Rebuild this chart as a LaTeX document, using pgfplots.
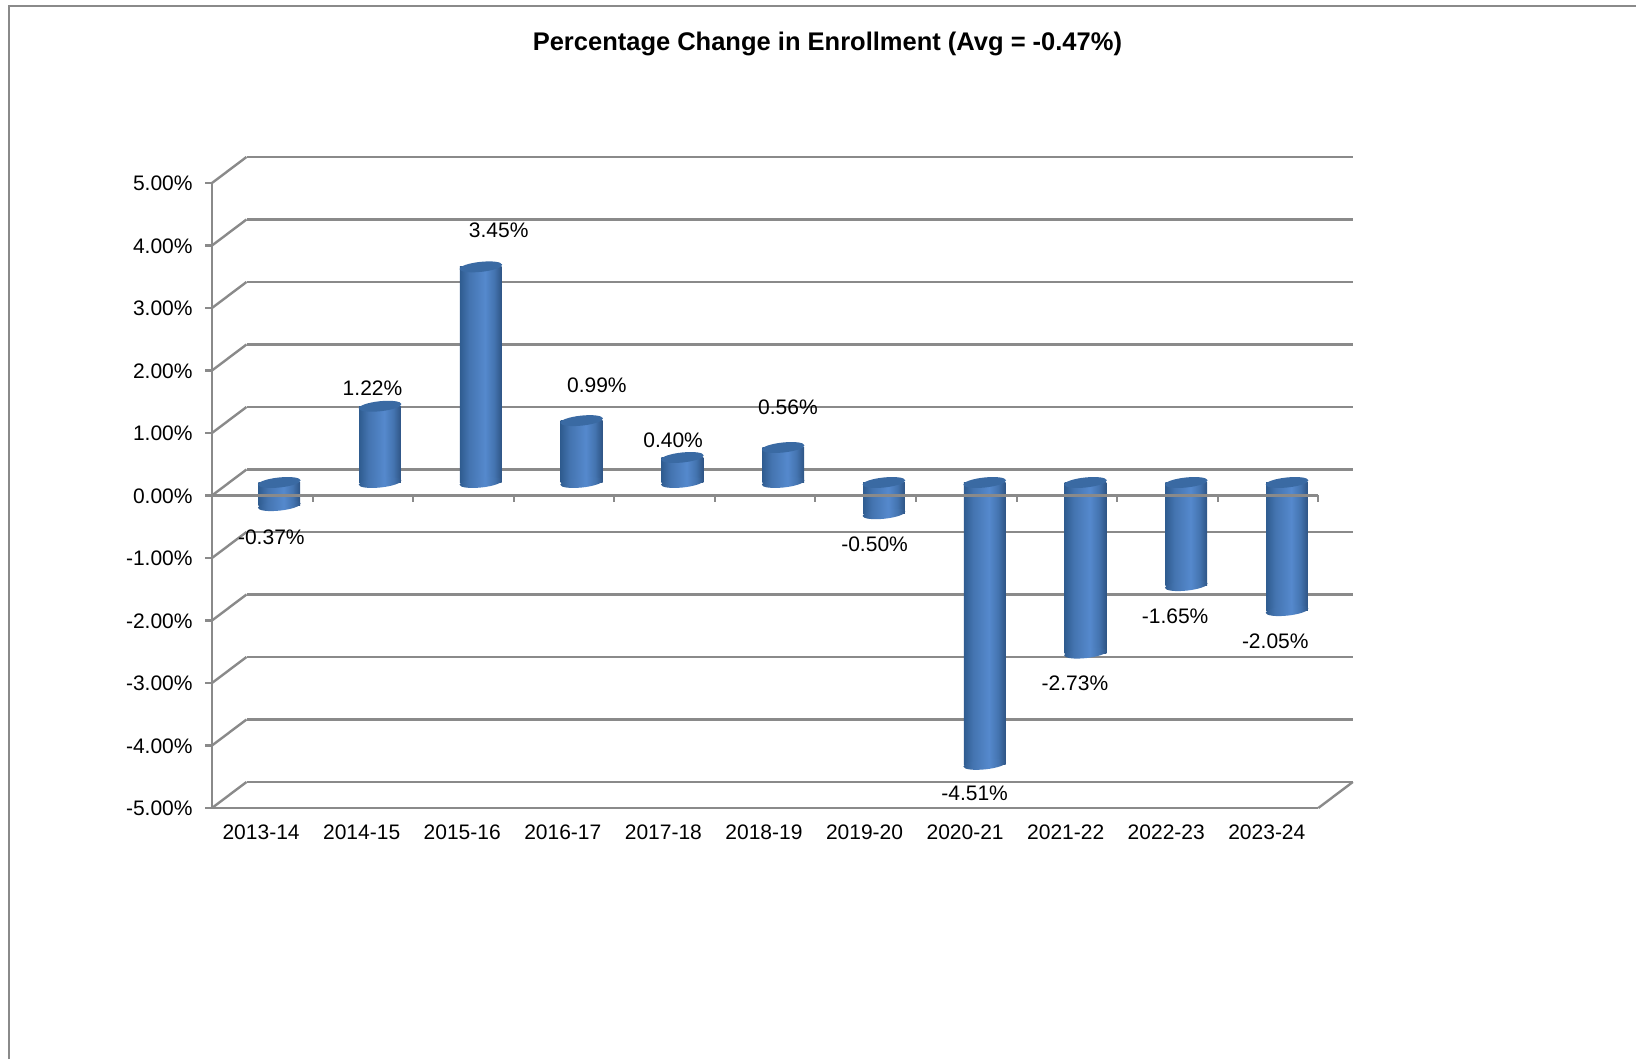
\documentclass[border=0pt]{standalone}
\usepackage{fontspec}
\setmainfont{Liberation Sans}
\usepackage{pgfplots}
\usepackage{pgfplotstable}
\pgfplotsset{compat=1.18}

\definecolor{framegray}{HTML}{8A8A8A}
\definecolor{cyledgeL}{HTML}{2F5C90}
\definecolor{cylmidA}{HTML}{4474B0}
\definecolor{cylmid}{HTML}{5589CD}
\definecolor{cyledgeR}{HTML}{2E5484}
\definecolor{capblue}{HTML}{3A6AA3}

% Lit cylinder surface, dark at both edges and bright just right of centre
\pgfdeclarehorizontalshading{cyl}{100bp}{%
  color(0bp)=(cyledgeL); color(25bp)=(cyledgeL); color(36bp)=(cylmidA);
  color(55bp)=(cylmid); color(66bp)=(cylmidA); color(75bp)=(cyledgeR); color(100bp)=(cyledgeR)}

% Tilted ellipses closing each cylinder
\pgfdeclareplotmark{cylcap}{%
  \pgfpathellipse{\pgfpointorigin}{\pgfqpoint{10.66pt}{1.12pt}}{\pgfqpoint{-0.26pt}{2.49pt}}%
  \pgfsetfillcolor{capblue}\pgfusepathqfill}
\pgfdeclareplotmark{cylfoot}{%
  \pgfpathellipse{\pgfpointorigin}{\pgfqpoint{10.66pt}{1.12pt}}{\pgfqpoint{-0.26pt}{2.49pt}}%
  \pgfshadepath{cyl}{0}\pgfusepath{discard}}

% Enrollment change per academic year; cap and foot are the ends of each cylinder
\pgfplotstableread{
x  v      cap   foot
0  -0.37  0     -0.37
1  1.22   1.22  0
2  3.45   3.45  0
3  0.99   0.99  0
4  0.40   0.40  0
5  0.56   0.56  0
6  -0.50  0     -0.50
7  -4.51  0     -4.51
8  -2.73  0     -2.73
9  -1.65  0     -1.65
10 -2.05  0     -2.05
}\enroll

\pgfplotsset{
  chartbox/.style={
    scale only axis, width=553.15pt, height=312.5pt,
    xmin=-0.5, xmax=10.5, ymin=-5, ymax=5, clip=false,
  },
}
\newcommand{\labfont}{\fontsize{10.5}{12}\selectfont}

\begin{document}
\begin{tikzpicture}
\path[use as bounding box] (0,0) rectangle (818pt,529.5pt);

% Outer chart frame
\draw[framegray, line width=1.1pt] (4.5pt,0pt) -- (4.5pt,526.5pt) -- (818pt,526.5pt);

% Title
\node[font=\fontsize{12.75}{14}\selectfont\bfseries, inner sep=0pt, anchor=center] at (413.7pt,507.7pt)
  {Percentage Change in Enrollment (Avg = -0.47\%)};

% Back wall with the horizontal gridlines
\begin{axis}[chartbox, at={(123.25pt,138.5pt)}, anchor=south west,
  axis line style={draw=none}, xtick=\empty, ytick={-5,-4,...,5}, yticklabels={},
  ymajorgrids, major tick length=0pt, tick style={draw=none},
  grid style={framegray, line width=1.2pt}]
\end{axis}

% Cylinders, at mid depth between the wall and the front plane
\begin{axis}[chartbox, width=554.25pt, at={(114.45pt,132pt)}, anchor=south west,
  axis line style={draw=none}, xtick=\empty, ytick=\empty]
  \addplot[only marks, mark=cylfoot] table[x=x, y=foot] {\enroll};
  \pgfplotsinvokeforeach{0,1,...,10}{
    \addplot[ybar, bar width=20.9pt, bar shift=0pt, draw=none, shade, shading=cyl,
      restrict x to domain=#1:#1] table[x=x, y=v] {\enroll};
  }
  \addplot[only marks, mark=cylcap] table[x=x, y=cap] {\enroll};
\end{axis}

% Front plane: axes, tick labels, depth edges and value labels
\begin{axis}[chartbox, at={(106pt,125.5pt)}, anchor=south west,
  axis x line=bottom, axis y line=left,
  axis line style={-, framegray, line width=1.2pt},
  xtick={0,1,...,10},
  xticklabels={2013-14,2014-15,2015-16,2016-17,2017-18,2018-19,2019-20,2020-21,2021-22,2022-23,2023-24},
  ytick={-5,-4,...,5},
  yticklabels={-5.00\%,-4.00\%,-3.00\%,-2.00\%,-1.00\%,0.00\%,1.00\%,2.00\%,3.00\%,4.00\%,5.00\%},
  x tick style={draw=none}, y tick style={framegray, line width=1.1pt},
  tick align=outside, major tick length=3.5pt,
  x tick label style={font=\labfont, anchor=center, inner sep=0pt, yshift=-8.8pt, xshift=-0.6pt},
  y tick label style={font=\labfont, anchor=east, inner sep=0pt, xshift=-6pt, yshift=-0.3pt},
]
  \pgfplotsinvokeforeach{-5,-4,...,5}{
    \draw[framegray, line width=1.2pt] (axis cs:-0.5,#1) -- ++(17.25pt,13pt);
  }
  \draw[framegray, line width=1.2pt] (axis cs:10.5,-5) -- ++(17.25pt,13pt);
  \draw[framegray, line width=1.2pt] (axis cs:-0.5,0) -- (axis cs:10.5,0);
  \pgfplotsinvokeforeach{0.5,1.5,...,10.5}{
    \draw[framegray, line width=1pt] (axis cs:#1,0) -- ++(0pt,-3.2pt);
  }
  \addplot[only marks, mark=none, point meta=explicit symbolic,
    nodes near coords, nodes near coords align={center},
    every node near coord/.style={font=\labfont, inner sep=0pt, anchor=center, yshift=-0.3pt}]
    table[x=x, y=y, meta=t] {
x       y       t
0.090   -0.653  -0.37\%
1.096   1.718   1.22\%
2.351   4.256   3.45\%
3.327   1.768   0.99\%
4.085   0.899   0.40\%
5.227   1.418   0.56\%
6.088   -0.770  -0.50\%
7.083   -4.760  -4.51\%
8.080   -2.990  -2.73\%
9.076   -1.922  -1.65\%
10.072  -2.322  -2.05\%
};
\end{axis}
\end{tikzpicture}
\end{document}
